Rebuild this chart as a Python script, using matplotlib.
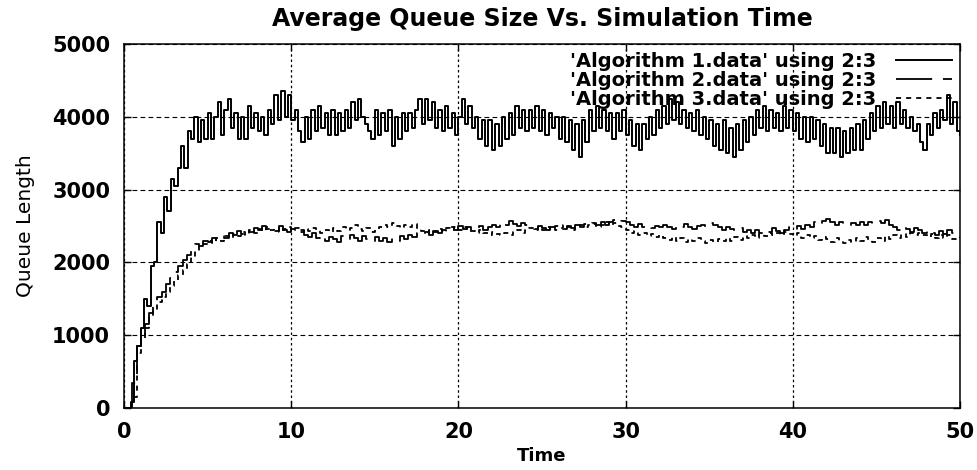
import numpy as np
import matplotlib
matplotlib.use("Agg")
import matplotlib.pyplot as plt

# Queue length samples
# Algorithm 1 sampled every 0.2 time units, from t = 0
paso_alg1 = 0.2
alg1 = [
    0, 0, 80, 650, 850, 1100, 1500, 1400, 1950, 2000,
    2550, 2400, 2900, 2700, 3150, 3050, 3300, 3600, 3300, 3800,
    3700, 4000, 3650, 3950, 3700, 4050, 3700, 4000, 4200, 3750,
    4100, 4250, 3850, 4050, 3700, 4000, 3700, 4150, 3850, 4050,
    3800, 4000, 3750, 4100, 3900, 4300, 3950, 4350, 4000, 4300,
    3950, 4100, 3800, 3650, 4000, 3700, 4100, 3800, 4150, 3850,
    4050, 3750, 4100, 3750, 4050, 3800, 4100, 3850, 4200, 3950,
    4250, 4000, 3900, 3800, 3700, 4100, 3750, 4050, 3800, 4100,
    3600, 4000, 3700, 4050, 3800, 4050, 3850, 4100, 4250, 3900,
    4250, 3950, 4200, 3850, 4100, 3800, 4150, 3850, 4050, 3750,
    4000, 4250, 3900, 4150, 3850, 4000, 3700, 3950, 3600, 3950,
    3550, 3900, 3600, 4000, 3700, 4050, 3750, 4150, 3850, 4100,
    3800, 4100, 3850, 4150, 3800, 4100, 3750, 4050, 3850, 4000,
    3700, 4000, 3650, 3950, 3550, 3900, 3450, 3950, 3650, 4100,
    3800, 4150, 3850, 4100, 3800, 4050, 3700, 4050, 3800, 4100,
    3750, 3950, 3600, 3900, 3550, 3900, 3700, 4000, 3750, 4100,
    3850, 4150, 3900, 4250, 3950, 4200, 3900, 4100, 3850, 4050,
    3800, 4100, 3750, 4000, 3700, 3950, 3600, 3900, 3550, 3950,
    3500, 3850, 3450, 3900, 3550, 3950, 3650, 4000, 3750, 4100,
    3850, 4150, 3800, 4100, 3850, 4050, 3800, 4150, 3850, 4100,
    3800, 4050, 3700, 4000, 3650, 4000, 3700, 3950, 3600, 3900,
    3500, 3850, 3500, 3850, 3450, 3800, 3500, 3850, 3550, 3900,
    3550, 3950, 3700, 4050, 3800, 4150, 3850, 4200, 3900, 4150,
    3850, 4200, 3900, 4100, 3850, 4000, 3800, 3900, 3650, 3550,
    3900, 3750, 4050, 3850, 4100, 3950, 4300, 3900, 4200, 3800,
    3750,
]

# Algorithms 2 and 3 sampled every 0.25 time units, from t = 0
paso_alg23 = 0.25
alg2 = [
    0, 0, 350, 850, 1000, 1150, 1300, 1400,
    1520, 1600, 1700, 1780, 1870, 1950, 2030, 2100,
    2180, 2250, 2230, 2300, 2280, 2330, 2310, 2360,
    2340, 2400, 2370, 2430, 2390, 2460, 2420, 2470,
    2440, 2500, 2460, 2480, 2430, 2500, 2450, 2420,
    2460, 2400, 2440, 2380, 2350, 2400, 2330, 2380,
    2300, 2350, 2320, 2280, 2360, 2310, 2380, 2330,
    2300, 2360, 2320, 2280, 2350, 2300, 2340, 2280,
    2330, 2300, 2360, 2320, 2380, 2350, 2400, 2370,
    2420, 2380, 2430, 2400, 2450, 2420, 2480, 2450,
    2500, 2460, 2480, 2430, 2470, 2500, 2450, 2490,
    2520, 2480, 2550, 2510, 2570, 2530, 2500, 2540,
    2510, 2480, 2460, 2500, 2470, 2440, 2480, 2450,
    2490, 2460, 2500, 2470, 2520, 2490, 2530, 2500,
    2540, 2510, 2560, 2520, 2550, 2580, 2540, 2570,
    2550, 2520, 2490, 2530, 2480, 2510, 2470, 2500,
    2480, 2520, 2490, 2460, 2510, 2480, 2530, 2490,
    2460, 2500, 2520, 2480, 2540, 2510, 2480, 2450,
    2490, 2460, 2430, 2470, 2420, 2450, 2410, 2440,
    2400, 2450, 2420, 2470, 2430, 2400, 2450, 2480,
    2440, 2500, 2460, 2520, 2480, 2550, 2510, 2570,
    2600, 2550, 2520, 2560, 2530, 2500, 2540, 2510,
    2550, 2520, 2560, 2530, 2570, 2540, 2580, 2520,
    2480, 2450, 2500, 2460, 2420, 2470, 2440, 2400,
    2450, 2410, 2380, 2430, 2390, 2440, 2400, 2450,
    2430,
]
alg3 = [
    0, 0, 150, 750, 950, 1100, 1250, 1350,
    1450, 1520, 1600, 1680, 1750, 1830, 1900, 1980,
    2080, 2150, 2220, 2250, 2300, 2270, 2330, 2300,
    2360, 2330, 2390, 2360, 2420, 2380, 2440, 2410,
    2460, 2430, 2480, 2440, 2470, 2420, 2460, 2480,
    2440, 2470, 2420, 2460, 2430, 2470, 2440, 2410,
    2450, 2420, 2470, 2430, 2480, 2440, 2470, 2510,
    2460, 2430, 2470, 2420, 2450, 2490, 2520, 2480,
    2540, 2500, 2470, 2510, 2480, 2530, 2460, 2430,
    2410, 2450, 2420, 2460, 2430, 2470, 2440, 2480,
    2450, 2490, 2460, 2430, 2410, 2440, 2400, 2380,
    2420, 2390, 2370, 2410, 2380, 2420, 2440, 2410,
    2450, 2470, 2440, 2480, 2450, 2490, 2460, 2500,
    2470, 2510, 2480, 2450, 2490, 2520, 2480, 2510,
    2530, 2490, 2520, 2550, 2510, 2540, 2500, 2480,
    2440, 2400, 2430, 2380, 2410, 2360, 2390, 2350,
    2380, 2340, 2310, 2350, 2300, 2340, 2280, 2320,
    2290, 2330, 2300, 2270, 2310, 2280, 2320, 2290,
    2330, 2300, 2350, 2310, 2360, 2330, 2380, 2340,
    2390, 2360, 2400, 2370, 2410, 2380, 2420, 2390,
    2360, 2400, 2340, 2380, 2330, 2360, 2310, 2350,
    2320, 2280, 2330, 2300, 2260, 2310, 2280, 2330,
    2300, 2350, 2310, 2280, 2330, 2300, 2360, 2320,
    2370, 2340, 2390, 2350, 2400, 2370, 2410, 2380,
    2350, 2390, 2340, 2380, 2330, 2370, 2320, 2350,
    2330,
]

etiquetas = [
    "'Algorithm 1.data' using 2:3",
    "'Algorithm 2.data' using 2:3",
    "'Algorithm 3.data' using 2:3",
]
ticks_x = [0, 10, 20, 30, 40, 50]
ticks_y = [0, 1000, 2000, 3000, 4000, 5000]

t1 = np.arange(len(alg1)) * paso_alg1
t23 = np.arange(len(alg2)) * paso_alg23

fig = plt.figure(figsize=(9.77, 4.70), dpi=100)
ax = fig.add_axes([124 / 977, 1 - 408 / 470, (960 - 124) / 977, (408 - 44) / 470])

ax.plot(t1, alg1, color='black', lw=1.4, drawstyle='steps-post', label=etiquetas[0])
ax.plot(t23, alg2, color='black', lw=1.3, linestyle=(0, (20, 6)),
        drawstyle='steps-post', label=etiquetas[1])
ax.plot(t23, alg3, color='black', lw=1.3, linestyle=(0, (2.8, 2.8)),
        drawstyle='steps-post', label=etiquetas[2])

ax.set_xlim(0, 50)
ax.set_ylim(0, 5000)
ax.set_xticks(ticks_x)
ax.set_yticks(ticks_y)

# Grade: tracejada na horizontal, pontilhada na vertical
ax.yaxis.grid(True, color='black', lw=0.8, linestyle=(0, (4.3, 2.9)))
ax.xaxis.grid(True, color='black', lw=0.9, linestyle=(0, (2, 2.2)))

ax.tick_params(direction='in', top=True, right=True, length=5, width=1, pad=10)
for lbl in ax.get_xticklabels() + ax.get_yticklabels():
    lbl.set_fontfamily('DejaVu Sans')
    lbl.set_fontweight('bold')
    lbl.set_fontsize(15)
for s in ax.spines.values():
    s.set_linewidth(1.1)

ax.set_title("Average Queue Size Vs. Simulation Time", fontsize=17,
             fontweight='bold', family='DejaVu Sans', pad=13)
ax.set_xlabel("Time", fontsize=13, fontweight='bold', family='DejaVu Sans', labelpad=4)
ax.set_ylabel("Queue Length", fontsize=14.5, family='DejaVu Sans', labelpad=12)

ax.legend(loc='upper right', frameon=False, markerfirst=False,
          prop={'family': 'DejaVu Sans', 'weight': 'bold', 'size': 14},
          handlelength=2.9, handletextpad=1.0, labelspacing=0.0,
          borderaxespad=0.3, borderpad=0.1)

fig.savefig("out.png", dpi=100)
